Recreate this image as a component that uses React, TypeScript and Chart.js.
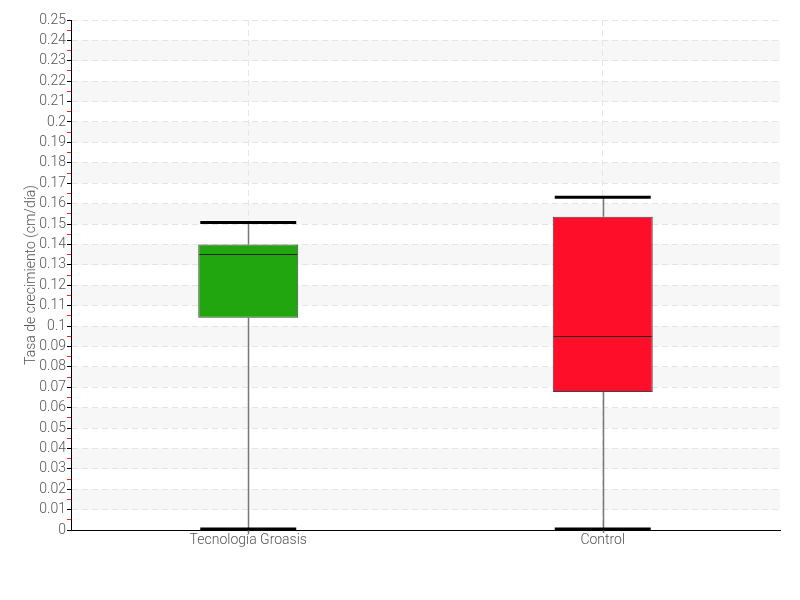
import React, { useEffect, useRef } from "react";
import { Chart, registerables } from "chart.js";

Chart.register(...registerables);

const categories = ["Tecnología Groasis", "Control"];
const minVals = [0, 0];
const q1Vals = [0.1041, 0.0676];
const medianVals = [0.1353, 0.0949];
const q3Vals = [0.1399, 0.1536];
const maxVals = [0.1507, 0.1631];
const boxColors = ["#22a60f", "#ff0e2a"];
const yTitle = "Tasa de crecimiento (cm/día)";

const FONT = "Roboto, 'DejaVu Sans', sans-serif";

const isMajor = (v: number) => Math.abs(v * 100 - Math.round(v * 100)) < 1e-6;

const bandsPlugin = {
  id: "bands",
  beforeDraw(chart: any) {
    const { ctx, chartArea } = chart;
    const y = chart.scales.y;
    ctx.save();
    ctx.fillStyle = "#f7f7f7";
    for (let k = 1; k < 25; k += 2) {
      const top = y.getPixelForValue((k + 1) / 100);
      const bot = y.getPixelForValue(k / 100);
      ctx.fillRect(chartArea.left, top, chartArea.right - chartArea.left, bot - top);
    }
    ctx.restore();
  },
};

const boxPlugin = {
  id: "boxExtras",
  beforeDatasetsDraw(chart: any) {
    const { ctx } = chart;
    const x = chart.scales.x;
    const y = chart.scales.y;
    ctx.save();
    ctx.strokeStyle = "#777";
    ctx.lineWidth = 1.5;
    categories.forEach((_, i) => {
      const px = Math.round(x.getPixelForValue(i)) + 0.5;
      ctx.beginPath();
      ctx.moveTo(px, y.getPixelForValue(maxVals[i]));
      ctx.lineTo(px, y.getPixelForValue(q3Vals[i]));
      ctx.moveTo(px, y.getPixelForValue(q1Vals[i]));
      ctx.lineTo(px, y.getPixelForValue(minVals[i]) + 3);
      ctx.stroke();
    });
    ctx.restore();
  },
  afterDatasetsDraw(chart: any) {
    const { ctx } = chart;
    const x = chart.scales.x;
    const y = chart.scales.y;
    const meta = chart.getDatasetMeta(0);
    ctx.save();
    categories.forEach((_, i) => {
      const px = x.getPixelForValue(i);
      const w = meta.data[i].width;
      ctx.strokeStyle = "#222";
      ctx.lineWidth = 1;
      const my = Math.round(y.getPixelForValue(medianVals[i])) + 0.5;
      ctx.beginPath();
      ctx.moveTo(px - w / 2 + 1, my);
      ctx.lineTo(px + w / 2 - 1, my);
      ctx.stroke();
      ctx.strokeStyle = "#000";
      ctx.lineWidth = 3;
      [maxVals[i], minVals[i]].forEach((v, j) => {
        const cy = y.getPixelForValue(v) - (j === 1 ? 1 : 0);
        ctx.beginPath();
        ctx.moveTo(px - w / 2 + 2, cy);
        ctx.lineTo(px + w / 2 - 2, cy);
        ctx.stroke();
      });
    });
    ctx.restore();
  },
};

export default function App() {
  const ref = useRef<HTMLCanvasElement>(null);
  useEffect(() => {
    document.body.style.margin = "0";
    const chart = new Chart(ref.current as HTMLCanvasElement, {
      type: "bar",
      data: {
        labels: categories,
        datasets: [
          {
            data: categories.map((_, i) => [q1Vals[i], q3Vals[i]]) as any,
            backgroundColor: boxColors,
            borderColor: "#444",
            borderWidth: 1,
            borderSkipped: false,
            barPercentage: 0.282,
            categoryPercentage: 1,
          },
        ],
      },
      options: {
        animation: false,
        responsive: false,
        maintainAspectRatio: false,
        layout: { padding: { left: 0, right: 20, top: 20, bottom: 0 } },
        plugins: { legend: { display: false }, tooltip: { enabled: false } },
        scales: {
          x: {
            offset: true,
            grid: {
              offset: false,
              color: "#e6e6e6",
              drawTicks: false,
            } as any,
            border: { color: "#000", width: 1, dash: [6, 4] },
            ticks: {
              color: "#555",
              font: { family: FONT, size: 14, weight: "300" as any },
              padding: 2,
            },
            afterFit: (s: any) => {
              s.height = 70;
            },
          },
          y: {
            min: 0,
            max: 0.25,
            grid: {
              color: (c: any) => (isMajor(c.tick.value) ? "#e4e4e4" : "rgba(0,0,0,0)"),
              tickBorderDash: [],
              tickColor: (c: any) => (isMajor(c.tick.value) ? "#000" : "#ff2020"),
              tickLength: 4,
            } as any,
            border: { color: "#000", width: 1, dash: [6, 4] },
            ticks: {
              stepSize: 0.005,
              autoSkip: false,
              maxTicksLimit: 200,
              color: "#555",
              font: { family: FONT, size: 14, weight: "300" as any },
              padding: 1,
              callback: (v: any) => (isMajor(v) ? String(Math.round(v * 100) / 100) : ""),
            },
            title: {
              display: true,
              text: yTitle,
              color: "#555",
              font: { family: FONT, size: 14, weight: "300" as any },
              padding: { top: 23, bottom: 0 },
            },
            afterFit: (s: any) => {
              s.width = 71;
            },
          },
        },
      },
      plugins: [bandsPlugin, boxPlugin],
    });
    return () => chart.destroy();
  }, []);
  return (
    <div style={{ width: 800, height: 600, background: "#fff" }}>
      <canvas ref={ref} width={800} height={600} style={{ display: "block" }} />
    </div>
  );
}
